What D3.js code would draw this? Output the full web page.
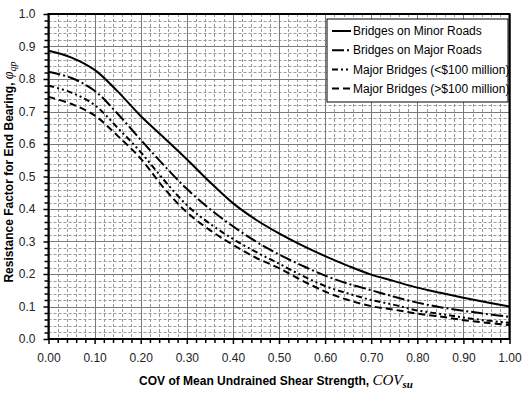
<!DOCTYPE html>
<html><head><meta charset="utf-8">
<script src="https://cdn.jsdelivr.net/npm/d3@7/dist/d3.min.js"></script>
<style>body{margin:0;background:#fff}svg{display:block}</style>
</head><body>
<svg id="chart" width="527" height="393"></svg>
<script>
// ---- data ----
const cov = [0,0.05,0.1,0.15,0.2,0.25,0.3,0.35,0.4,0.45,0.5,0.55,0.6,0.65,0.7,0.75,0.8,0.85,0.9,0.95,1.0];
const minorRoads = [0.887,0.866,0.828,0.762,0.686,0.620,0.553,0.483,0.418,0.367,0.325,0.288,0.255,0.225,0.198,0.178,0.158,0.142,0.127,0.113,0.100];
const majorRoads = [0.822,0.803,0.764,0.693,0.613,0.535,0.462,0.400,0.347,0.300,0.260,0.226,0.195,0.170,0.150,0.130,0.112,0.098,0.087,0.077,0.068];
const majorLt100 = [0.780,0.758,0.720,0.650,0.575,0.490,0.412,0.355,0.308,0.268,0.232,0.195,0.163,0.140,0.120,0.105,0.088,0.077,0.066,0.057,0.050];
const majorGt100 = [0.745,0.723,0.688,0.625,0.555,0.465,0.390,0.335,0.290,0.250,0.218,0.180,0.146,0.120,0.101,0.090,0.078,0.069,0.058,0.050,0.043];
const seriesNames = ["Bridges on Minor Roads","Bridges on Major Roads","Major Bridges (<$100 million)","Major Bridges (>$100 million)"];
const xTickValues = [0,0.1,0.2,0.3,0.4,0.5,0.6,0.7,0.8,0.9,1.0];
const yTickValues = [0,0.1,0.2,0.3,0.4,0.5,0.6,0.7,0.8,0.9,1.0];

const series = [minorRoads, majorRoads, majorLt100, majorGt100];
const dashes = [null, "12,3,2,3", "6,3,2,3,2,3", "7,4"];

const svg = d3.select("#chart");
const L = 48.5, R = 509.5, T = 14, B = 339;
const x = d3.scaleLinear().domain([0,1]).range([L,R]);
const y = d3.scaleLinear().domain([0,1]).range([B,T]);
const font = "'Liberation Sans', Arial, sans-serif";

// minor grid
const minorX = d3.range(0,1.0001,0.02).filter(v => Math.abs(v*10 - Math.round(v*10)) > 1e-6);
const minorY = minorX;
const g = svg.append("g");
g.selectAll("line.mx").data(minorX).join("line")
  .attr("x1", d => Math.round(x(d))+0.5).attr("x2", d => Math.round(x(d))+0.5)
  .attr("y1", T).attr("y2", B)
  .attr("stroke", "#9a9a9a").attr("stroke-width", 1).attr("stroke-dasharray", "3,2");
g.selectAll("line.my").data(minorY).join("line")
  .attr("y1", d => Math.round(y(d))+0.5).attr("y2", d => Math.round(y(d))+0.5)
  .attr("x1", L).attr("x2", R)
  .attr("stroke", "#9a9a9a").attr("stroke-width", 1).attr("stroke-dasharray", "3,2");
// major grid
g.selectAll("line.Mx").data(xTickValues).join("line")
  .attr("x1", d => Math.round(x(d))+0.5).attr("x2", d => Math.round(x(d))+0.5)
  .attr("y1", T).attr("y2", B).attr("stroke", "#7a7a7a").attr("stroke-width", 1);
g.selectAll("line.My").data(yTickValues).join("line")
  .attr("y1", d => Math.round(y(d))+0.5).attr("y2", d => Math.round(y(d))+0.5)
  .attr("x1", L).attr("x2", R).attr("stroke", "#7a7a7a").attr("stroke-width", 1);

// axes (ticks)
const xAxis = d3.axisBottom(x).tickValues(xTickValues).tickFormat(d3.format(".2f")).tickSize(5).tickPadding(9);
const yAxis = d3.axisLeft(y).tickValues(yTickValues).tickFormat(d3.format(".1f")).tickSize(5).tickPadding(8);
const xa = svg.append("g").attr("transform", `translate(0,${B})`).call(xAxis);
const ya = svg.append("g").attr("transform", `translate(${L},0)`).call(yAxis);
[xa, ya].forEach(a => {
  a.select(".domain").remove();
  a.selectAll("line").attr("stroke", "#000").attr("stroke-width", 1.5);
  a.selectAll("text").attr("font-family", font).attr("font-size", 12).attr("fill", "#222");
});
const xm = svg.append("g").attr("transform", `translate(0,${B})`)
  .call(d3.axisBottom(x).tickValues(minorX).tickFormat("").tickSize(4));
const ym = svg.append("g").attr("transform", `translate(${L},0)`)
  .call(d3.axisLeft(y).tickValues(minorY).tickFormat("").tickSize(4));
[xm, ym].forEach(a => { a.select(".domain").remove(); a.selectAll("line").attr("stroke", "#000").attr("stroke-width", 1.5); });

// clip
svg.append("clipPath").attr("id", "clip").append("rect")
  .attr("x", L).attr("y", T).attr("width", R-L).attr("height", B-T);

// curves
const line = d3.line().x((d,i) => x(cov[i])).y(d => y(d)).curve(d3.curveCatmullRom.alpha(0.5));
svg.append("g").attr("clip-path", "url(#clip)").selectAll("path").data(series).join("path")
  .attr("d", d => line(d)).attr("fill", "none").attr("stroke", "#000")
  .attr("stroke-width", 2).attr("stroke-dasharray", (d,i) => dashes[i]);

// plot border
svg.append("rect").attr("x", L).attr("y", T).attr("width", R-L).attr("height", B-T)
  .attr("fill", "none").attr("stroke", "#000").attr("stroke-width", 2);

// legend
const lg = svg.append("g");
lg.append("rect").attr("x", 327).attr("y", 19).attr("width", 181).attr("height", 83)
  .attr("fill", "#fff").attr("stroke", "#000").attr("stroke-width", 1);
seriesNames.forEach((name, i) => {
  const cy = 31 + i*19.2;
  lg.append("line").attr("x1", 332).attr("x2", 351).attr("y1", cy).attr("y2", cy)
    .attr("stroke", "#000").attr("stroke-width", 2).attr("stroke-dasharray", dashes[i]);
  lg.append("text").attr("x", 353).attr("y", cy).attr("dy", "0.35em")
    .attr("font-family", font).attr("font-size", 12).attr("fill", "#000").text(name);
});

// x title
const xt = svg.append("text").attr("x", 276).attr("y", 385).attr("text-anchor", "middle")
  .attr("font-family", font).attr("font-size", 12).attr("font-weight", "bold").attr("fill", "#000");
xt.append("tspan").text("COV of Mean Undrained Shear Strength, ");
xt.append("tspan").attr("font-family", "'Liberation Serif', 'Times New Roman', serif").attr("font-style", "italic")
  .attr("font-weight", "normal").attr("font-size", 15).text("COV");
xt.append("tspan").attr("font-family", "'Liberation Serif', 'Times New Roman', serif").attr("font-style", "italic")
  .attr("font-weight", "bold").attr("font-size", 11).attr("dy", 3).text("su");

// y title
const yt = svg.append("text").attr("transform", "translate(13,172) rotate(-90)").attr("text-anchor", "middle")
  .attr("font-family", font).attr("font-size", 12).attr("font-weight", "bold").attr("fill", "#000");
yt.append("tspan").text("Resistance Factor for End Bearing, ");
yt.append("tspan").attr("font-family", "'Liberation Serif', 'Times New Roman', serif").attr("font-style", "italic")
  .attr("font-weight", "normal").attr("font-size", 14).text("φ");
yt.append("tspan").attr("font-family", "'Liberation Serif', 'Times New Roman', serif").attr("font-style", "italic")
  .attr("font-weight", "normal").attr("font-size", 10).attr("dy", 3).text("qp");
</script>
</body></html>
